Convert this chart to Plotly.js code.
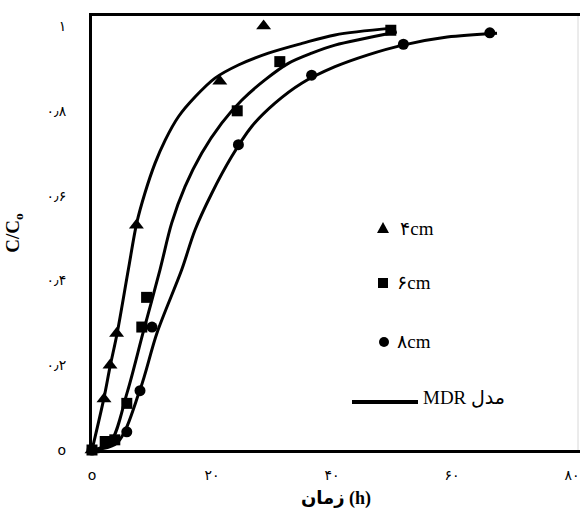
<!DOCTYPE html>
<html>
<head>
<meta charset="utf-8">
<script src="https://cdn.plot.ly/plotly-3.0.1.min.js"></script>
<style>html,body{margin:0;padding:0;background:#fff}#chart{width:580px;height:513px}</style>
</head>
<body>
<div id="chart"></div>
<script>
// Measured points (time h, C/C0)
var tri_t = [0, 2.0, 3.0, 4.1, 7.4, 21.3, 28.6];
var tri_v = [0, 0.12, 0.20, 0.275, 0.53, 0.87, 1.0];
var sq_t = [0, 2.2, 3.8, 5.8, 8.3, 9.1, 24.2, 31.3, 49.8];
var sq_v = [0, 0.02, 0.024, 0.11, 0.29, 0.36, 0.80, 0.916, 0.99];
var ci_t = [0, 5.8, 8.0, 10.0, 24.4, 36.6, 51.9, 66.3];
var ci_v = [0, 0.043, 0.14, 0.29, 0.72, 0.884, 0.957, 0.984];

// MDR model curves
var m4_t = [0, 2.0, 3.0, 4.2, 6.05, 7.45, 8.8, 10.5, 12.2, 14.4, 17.2, 20.5, 24.4, 29.4, 35.0, 40.5, 50.0];
var m4_v = [0, 0.123, 0.196, 0.276, 0.425, 0.535, 0.605, 0.676, 0.731, 0.786, 0.833, 0.877, 0.908, 0.936, 0.959, 0.979, 0.995];
var m6_t = [0, 3.0, 5.83, 8.5, 11.33, 13.28, 15.5, 18.28, 21.62, 24.95, 28.83, 32.72, 36.62, 40.5, 50.8];
var m6_v = [0, 0.017, 0.134, 0.276, 0.425, 0.535, 0.621, 0.70, 0.771, 0.825, 0.873, 0.912, 0.936, 0.955, 0.986];
var m8_t = [0, 4.17, 8.0, 10.83, 14.95, 17.17, 19.95, 23.28, 26.62, 30.5, 34.95, 40.5, 46.0, 51.8, 59.2, 67.5];
var m8_v = [0, 0.017, 0.142, 0.276, 0.425, 0.519, 0.605, 0.692, 0.763, 0.818, 0.865, 0.904, 0.932, 0.955, 0.974, 0.983];

var x_ticks = [0, 20, 40, 60, 80];
var x_labels = ['o', '۲۰', '۴۰', '۶۰', '۸۰'];
var y_ticks = [0, 0.2, 0.4, 0.6, 0.8, 1];
var y_labels = ['o', '۰٫۲', '۰٫۴', '۰٫۶', '۰٫۸', '۱'];
var legend_labels = ['۴cm', '۶cm', '۸cm', 'MDR مدل'];

function lineTrace(t, v) {
  return {x: t, y: v, mode: 'lines', type: 'scatter', line: {color: '#000', width: 3, shape: 'spline', smoothing: 0.9}, hoverinfo: 'skip', showlegend: false, cliponaxis: false};
}
function markTrace(t, v, sym, sz) {
  return {x: t, y: v, mode: 'markers', type: 'scatter', marker: {color: '#000', symbol: sym, size: sz}, showlegend: false, cliponaxis: false};
}

var data = [
  lineTrace(m4_t, m4_v), lineTrace(m6_t, m6_v), lineTrace(m8_t, m8_v),
  markTrace(tri_t, tri_v, 'triangle-up', 13),
  markTrace(sq_t, sq_v, 'square', 11),
  markTrace(ci_t, ci_v, 'circle', 11)
];

function px(x) { return (x - 92) / 488; }
function py(y) { return (450 - y) / 434; }

var layout = {
  width: 580, height: 513,
  margin: {l: 92, r: 0, t: 16, b: 63},
  paper_bgcolor: '#fff', plot_bgcolor: '#fff',
  showlegend: false,
  xaxis: {
    range: [0, 81.33], tickvals: x_ticks, ticktext: x_labels,
    showgrid: false, zeroline: false, ticks: '',
    showline: true, linecolor: '#000', linewidth: 3, mirror: true,
    ticklabelstandoff: 10,
    tickfont: {family: 'DejaVu Sans', size: 14, color: '#000'},
    title: {text: '<b>زمان (h)</b>', font: {family: 'Liberation Serif, DejaVu Sans', size: 18, color: '#000'}, standoff: 10}
  },
  yaxis: {
    range: [0, 1.0236], tickvals: y_ticks, ticktext: y_labels,
    showgrid: false, zeroline: false, ticks: '',
    showline: true, linecolor: '#000', linewidth: 3,
    ticklabelstandoff: 20,
    tickfont: {family: 'DejaVu Sans', size: 14, color: '#000'},
    title: {text: '<b>C/C<sub>o</sub></b>', font: {family: 'Liberation Serif', size: 19, color: '#000'}, standoff: 22}
  },
  shapes: [
    {type: 'line', xref: 'paper', yref: 'paper', x0: px(578), x1: px(578), y0: 0, y1: 1, line: {color: '#d8d8d8', width: 1}},
    {type: 'path', xref: 'paper', yref: 'paper', xsizemode: 'pixel', ysizemode: 'pixel', xanchor: px(383), yanchor: py(228), path: 'M-6,-5 L6,-5 L0,6 Z', fillcolor: '#000', line: {width: 0}},
    {type: 'rect', xref: 'paper', yref: 'paper', xsizemode: 'pixel', ysizemode: 'pixel', xanchor: px(383), yanchor: py(283), x0: -5, x1: 5, y0: -5, y1: 5, fillcolor: '#000', line: {width: 0}},
    {type: 'circle', xref: 'paper', yref: 'paper', xsizemode: 'pixel', ysizemode: 'pixel', xanchor: px(384), yanchor: py(342), x0: -5, x1: 5, y0: -5, y1: 5, fillcolor: '#000', line: {width: 0}},
    {type: 'line', xref: 'paper', yref: 'paper', x0: px(352), x1: px(418), y0: py(402), y1: py(402), line: {color: '#000', width: 4}}
  ],
  annotations: [
    {xref: 'paper', yref: 'paper', x: px(398), y: py(228), xanchor: 'left', yanchor: 'middle', text: legend_labels[0], showarrow: false, font: {family: 'Liberation Serif, DejaVu Sans', size: 19, color: '#000'}},
    {xref: 'paper', yref: 'paper', x: px(395), y: py(282), xanchor: 'left', yanchor: 'middle', text: legend_labels[1], showarrow: false, font: {family: 'Liberation Serif, DejaVu Sans', size: 19, color: '#000'}},
    {xref: 'paper', yref: 'paper', x: px(395), y: py(341), xanchor: 'left', yanchor: 'middle', text: legend_labels[2], showarrow: false, font: {family: 'Liberation Serif, DejaVu Sans', size: 19, color: '#000'}},
    {xref: 'paper', yref: 'paper', x: px(421), y: py(397), xanchor: 'left', yanchor: 'middle', text: legend_labels[3], showarrow: false, font: {family: 'Liberation Serif, DejaVu Sans', size: 19, color: '#000'}}
  ]
};

Plotly.newPlot('chart', data, layout, {staticPlot: true, displayModeBar: false});
</script>
</body>
</html>
